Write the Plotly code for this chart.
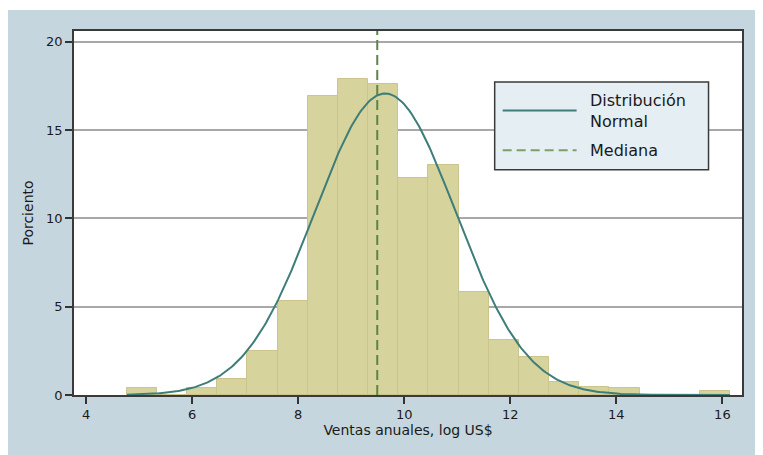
import numpy as np
import plotly.graph_objects as go

# ---- data ----
bin_start = 4.767
bin_width = 0.5688
percent = [0.37, 0.0, 0.37, 0.91, 2.50, 5.30, 16.94, 17.88, 17.62, 12.27,
           13.04, 5.83, 3.10, 2.14, 0.74, 0.46, 0.38, 0.0, 0.0, 0.20]
normal_mean = 9.64
normal_sd = 1.33
median = 9.49
x_ticks = [4, 6, 8, 10, 12, 14, 16]
y_ticks = [0, 5, 10, 15, 20]
x_title = "Ventas anuales, log US$"
y_title = "Porciento"
legend_normal = "Distribución<br>Normal"
legend_median = "Mediana"

# ---- derived ----
n = len(percent)
centers = [bin_start + bin_width * (i + 0.5) for i in range(n)]
data_min = bin_start
data_max = bin_start + bin_width * n
xc = np.linspace(data_min, data_max, 400)
yc = 100 * bin_width * np.exp(-0.5 * ((xc - normal_mean) / normal_sd) ** 2) / (normal_sd * np.sqrt(2 * np.pi))

# page body has an 8px margin, so the figure sits at (8, 8) in the window
OFF = 8
W, H = 763 - OFF, 455 - OFF
L, R, T, B = 74 - OFF, 742.5 - OFF, 31 - OFF, 395.5 - OFF
def px(X):
    return (X - OFF - L) / (R - L)
def py(Y):
    return (B - (Y - OFF)) / (B - T)

BG = "#c6d6de"
BAR = "#d6d39d"
BAR_LINE = "#cbc48c"
CURVE = "#3d7d7a"
MED = "#5f8444"
FONT = "DejaVu Sans"

fig = go.Figure()
fig.add_trace(go.Bar(x=centers, y=percent, width=bin_width,
                     marker=dict(color=BAR, line=dict(color=BAR_LINE, width=1))))
fig.add_trace(go.Scatter(x=[median, median], y=[0, 20.6], mode="lines",
                         line=dict(color=MED, width=2, dash="10px,5px")))
fig.add_trace(go.Scatter(x=xc, y=yc, mode="lines",
                         line=dict(color=CURVE, width=2)))

shapes = [
    # thin white strip at the top of the page
    dict(type="rect", xref="paper", yref="paper", x0=px(0), x1=px(770), y0=py(10), y1=py(0),
         fillcolor="white", line=dict(width=0), layer="above"),
    # legend box
    dict(type="rect", xref="paper", yref="paper", x0=px(495), x1=px(709), y0=py(170), y1=py(82),
         fillcolor="#e4eef3", line=dict(color="#3a3a3a", width=1.5), layer="above"),
    dict(type="line", xref="paper", yref="paper", x0=px(503), x1=px(577), y0=py(110.7), y1=py(110.7),
         line=dict(color=CURVE, width=2), layer="above"),
    dict(type="line", xref="paper", yref="paper", x0=px(503), x1=px(577), y0=py(150.5), y1=py(150.5),
         line=dict(color="#7f9f6a", width=2, dash="9px,5px"), layer="above"),
]

annotations = [
    dict(text=legend_normal, xref="paper", yref="paper", x=px(588), y=py(111.5),
         xanchor="left", yanchor="middle", showarrow=False, align="left",
         font=dict(family=FONT, size=16, color="#1a1a1a")),
    dict(text=legend_median, xref="paper", yref="paper", x=px(588), y=py(151),
         xanchor="left", yanchor="middle", showarrow=False, align="left",
         font=dict(family=FONT, size=16, color="#1a1a1a")),
]

fig.update_layout(
    width=W, height=H,
    margin=dict(l=L, r=W - R, t=T, b=H - B, autoexpand=False),
    paper_bgcolor=BG, plot_bgcolor="white",
    showlegend=False, bargap=0,
    shapes=shapes, annotations=annotations,
    font=dict(family=FONT, size=13, color="#1a1a1a"),
)
fig.update_xaxes(range=[3.77, 16.37], tickvals=x_ticks, ticks="outside", ticklen=7,
                 tickcolor="#333", tickwidth=1.5, showgrid=False, zeroline=False,
                 showline=True, linecolor="#3a3a3a", linewidth=1.5, mirror=True,
                 tickfont=dict(family=FONT, size=13),
                 title=dict(text=x_title, standoff=3, font=dict(family=FONT, size=14)),
                 automargin=False)
fig.update_yaxes(range=[0, 20.6], tickvals=y_ticks, ticks="outside", ticklen=7,
                 tickcolor="#333", tickwidth=1.5, showgrid=True, gridcolor="#a8a8a8",
                 gridwidth=1.5, zeroline=False,
                 showline=True, linecolor="#3a3a3a", linewidth=1.5, mirror=True,
                 tickfont=dict(family=FONT, size=13),
                 title=dict(text=y_title, standoff=9, font=dict(family=FONT, size=14)),
                 automargin=False)

fig.write_html("out.html")
